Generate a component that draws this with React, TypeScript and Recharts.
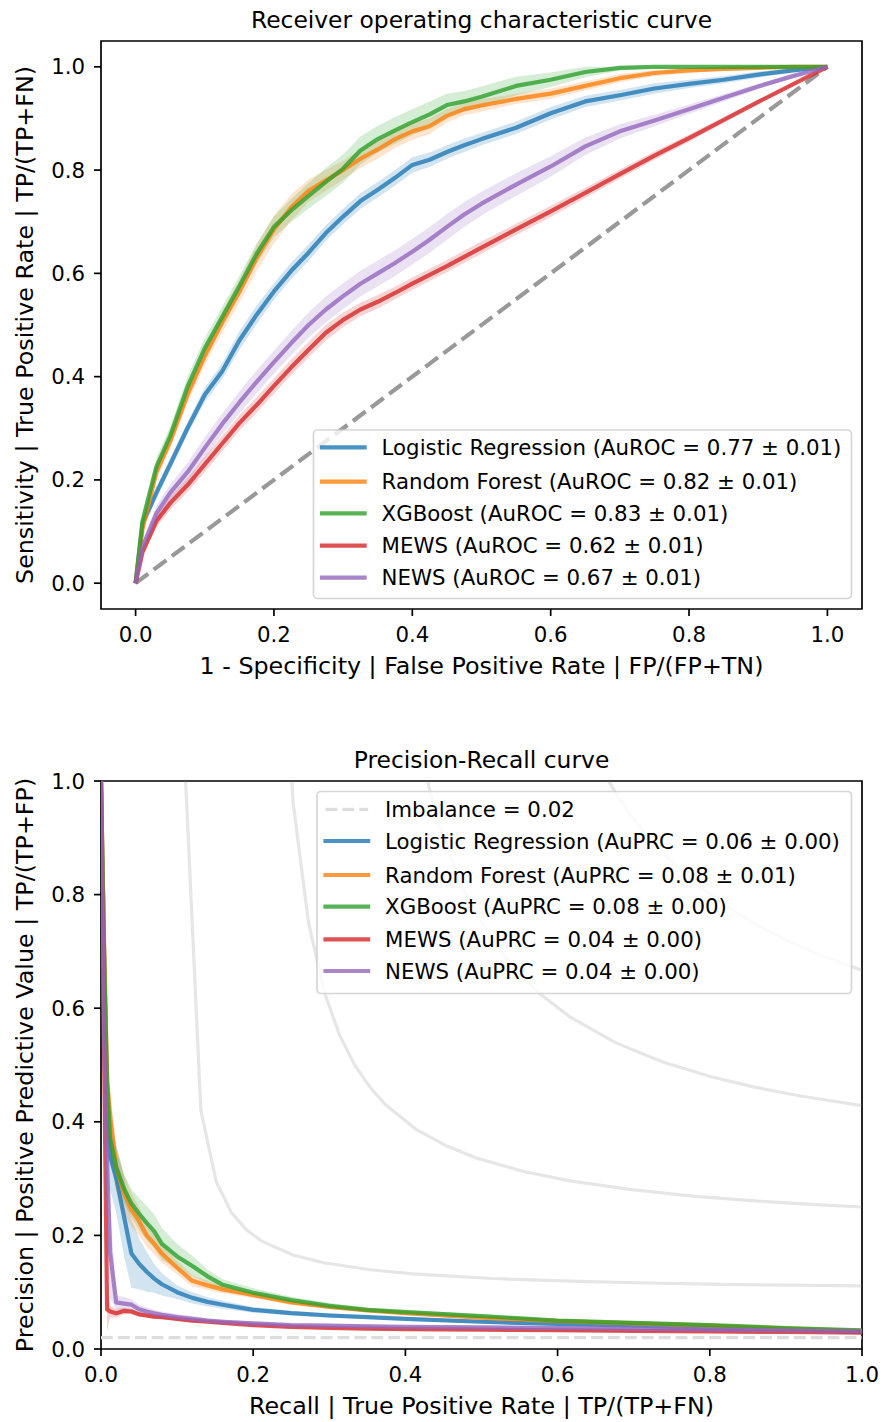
import React from "react";
import { ComposedChart, Line, Area, XAxis, YAxis, ReferenceArea, ReferenceLine } from "recharts";

const FONT = "DejaVu Sans";
const FS = 21.3;
const LABEL_FS = 23.8;
const TITLE_FS = 23.4;

const BLUE = "#1f77b4";
const ORANGE = "#ff7f0e";
const GREEN = "#2ca02c";
const RED = "#d62728";
const PURPLE = "#9467bd";

// ---------- ROC curve (false positive rate -> true positive rate) ----------
const rocFpr = [0, 0.01, 0.03, 0.05, 0.075, 0.1, 0.125, 0.15, 0.175, 0.2, 0.225, 0.25, 0.275, 0.3, 0.325, 0.35, 0.375, 0.4, 0.425, 0.45, 0.475, 0.5, 0.55, 0.6, 0.65, 0.7, 0.75, 0.8, 0.85, 0.9, 0.95, 1.0];
const rocLogReg = [0, 0.115, 0.175, 0.23, 0.3, 0.365, 0.41, 0.47, 0.52, 0.565, 0.605, 0.64, 0.678, 0.71, 0.74, 0.762, 0.785, 0.81, 0.82, 0.835, 0.848, 0.86, 0.882, 0.91, 0.933, 0.945, 0.958, 0.967, 0.975, 0.985, 0.993, 1];
const rocLogRegSd = [0, 0.01, 0.012, 0.012, 0.012, 0.014, 0.015, 0.018, 0.018, 0.016, 0.016, 0.016, 0.015, 0.015, 0.015, 0.015, 0.015, 0.015, 0.014, 0.013, 0.013, 0.012, 0.012, 0.012, 0.011, 0.01, 0.01, 0.008, 0.007, 0.006, 0.004, 0];
const rocForest = [0, 0.105, 0.215, 0.275, 0.365, 0.44, 0.505, 0.565, 0.63, 0.685, 0.728, 0.76, 0.78, 0.8, 0.822, 0.84, 0.86, 0.875, 0.885, 0.905, 0.918, 0.925, 0.938, 0.948, 0.963, 0.978, 0.988, 0.993, 0.996, 0.998, 1, 1];
const rocForestSd = [0, 0.012, 0.015, 0.015, 0.016, 0.018, 0.02, 0.022, 0.025, 0.027, 0.025, 0.022, 0.02, 0.018, 0.018, 0.018, 0.017, 0.016, 0.015, 0.013, 0.012, 0.012, 0.01, 0.01, 0.009, 0.008, 0.006, 0.005, 0.004, 0.003, 0.002, 0];
const rocXgb = [0, 0.12, 0.225, 0.285, 0.38, 0.455, 0.515, 0.575, 0.638, 0.69, 0.722, 0.75, 0.777, 0.803, 0.838, 0.86, 0.877, 0.893, 0.908, 0.926, 0.933, 0.942, 0.963, 0.975, 0.99, 0.998, 1, 1, 1, 1, 1, 1];
const rocXgbSd = [0, 0.015, 0.017, 0.018, 0.02, 0.02, 0.02, 0.02, 0.02, 0.02, 0.022, 0.025, 0.027, 0.027, 0.027, 0.026, 0.026, 0.025, 0.025, 0.022, 0.02, 0.02, 0.018, 0.014, 0.01, 0.005, 0.002, 0, 0, 0, 0, 0];
const rocMews = [0, 0.06, 0.12, 0.155, 0.19, 0.23, 0.27, 0.31, 0.345, 0.382, 0.418, 0.452, 0.485, 0.51, 0.53, 0.545, 0.562, 0.58, 0.597, 0.614, 0.632, 0.65, 0.685, 0.72, 0.756, 0.792, 0.828, 0.862, 0.897, 0.932, 0.966, 1];
const rocMewsSd = [0, 0.008, 0.012, 0.013, 0.014, 0.015, 0.015, 0.015, 0.015, 0.015, 0.015, 0.015, 0.015, 0.014, 0.013, 0.013, 0.012, 0.012, 0.012, 0.012, 0.012, 0.012, 0.011, 0.011, 0.01, 0.009, 0.008, 0.007, 0.006, 0.004, 0.002, 0];
const rocNews = [0, 0.07, 0.135, 0.175, 0.215, 0.262, 0.308, 0.35, 0.39, 0.428, 0.465, 0.5, 0.53, 0.556, 0.58, 0.6, 0.62, 0.642, 0.665, 0.69, 0.714, 0.735, 0.772, 0.807, 0.846, 0.875, 0.896, 0.918, 0.94, 0.962, 0.982, 1];
const rocNewsSd = [0, 0.01, 0.015, 0.016, 0.018, 0.02, 0.02, 0.021, 0.022, 0.022, 0.023, 0.024, 0.025, 0.025, 0.025, 0.025, 0.025, 0.025, 0.025, 0.025, 0.024, 0.023, 0.022, 0.02, 0.017, 0.014, 0.011, 0.009, 0.007, 0.005, 0.003, 0];
const chanceLine = [{ x: 0, y: 0 }, { x: 1, y: 1 }];

// ---------- Precision-recall curve (recall -> precision) ----------
const prRecall = [0, 0.004, 0.008, 0.012, 0.02, 0.03, 0.04, 0.05, 0.06, 0.07, 0.08, 0.1, 0.12, 0.14, 0.16, 0.2, 0.25, 0.3, 0.35, 0.4, 0.5, 0.6, 0.7, 0.8, 0.9, 1];
const prLogReg = [1, 0.7, 0.42, 0.34, 0.3, 0.235, 0.168, 0.15, 0.136, 0.124, 0.114, 0.1, 0.09, 0.083, 0.078, 0.069, 0.063, 0.059, 0.056, 0.053, 0.048, 0.044, 0.041, 0.037, 0.034, 0.03];
const prLogRegSd = [0, 0.06, 0.06, 0.06, 0.06, 0.07, 0.06, 0.045, 0.035, 0.025, 0.02, 0.012, 0.01, 0.008, 0.007, 0.005, 0.004, 0.004, 0.003, 0.003, 0.003, 0.003, 0.003, 0.002, 0.002, 0.002];
const prForest = [1, 0.72, 0.47, 0.41, 0.32, 0.275, 0.245, 0.225, 0.2, 0.185, 0.168, 0.143, 0.12, 0.112, 0.105, 0.095, 0.082, 0.074, 0.068, 0.063, 0.055, 0.049, 0.045, 0.041, 0.036, 0.032];
const prForestSd = [0, 0.08, 0.07, 0.05, 0.04, 0.035, 0.03, 0.025, 0.02, 0.018, 0.016, 0.012, 0.01, 0.008, 0.007, 0.005, 0.004, 0.003, 0.003, 0.003, 0.003, 0.002, 0.002, 0.002, 0.002, 0.002];
const prXgb = [1, 0.7, 0.47, 0.37, 0.32, 0.283, 0.256, 0.238, 0.222, 0.207, 0.185, 0.163, 0.146, 0.128, 0.113, 0.099, 0.086, 0.076, 0.069, 0.065, 0.058, 0.05, 0.046, 0.042, 0.037, 0.033];
const prXgbSd = [0, 0.06, 0.05, 0.04, 0.03, 0.025, 0.025, 0.028, 0.03, 0.03, 0.028, 0.022, 0.018, 0.012, 0.01, 0.008, 0.006, 0.005, 0.004, 0.004, 0.003, 0.003, 0.003, 0.002, 0.002, 0.002];
const prMews = [1, 0.53, 0.07, 0.066, 0.063, 0.067, 0.066, 0.061, 0.059, 0.057, 0.056, 0.053, 0.05, 0.048, 0.046, 0.042, 0.039, 0.037, 0.036, 0.035, 0.034, 0.033, 0.032, 0.031, 0.03, 0.029];
const prMewsSd = [0, 0.05, 0.04, 0.01, 0.008, 0.006, 0.005, 0.004, 0.004, 0.004, 0.003, 0.003, 0.003, 0.002, 0.002, 0.002, 0.002, 0.002, 0.002, 0.002, 0.002, 0.002, 0.002, 0.002, 0.002, 0.002];
const prNews = [1, 0.55, 0.33, 0.17, 0.082, 0.08, 0.078, 0.07, 0.066, 0.063, 0.06, 0.056, 0.053, 0.05, 0.048, 0.045, 0.042, 0.041, 0.04, 0.039, 0.038, 0.037, 0.036, 0.034, 0.033, 0.031];
const prNewsSd = [0, 0.1, 0.09, 0.08, 0.012, 0.012, 0.01, 0.008, 0.007, 0.006, 0.006, 0.005, 0.005, 0.004, 0.004, 0.003, 0.003, 0.003, 0.003, 0.002, 0.002, 0.002, 0.002, 0.002, 0.002, 0.002];
const imbalance = 0.02;

// iso-F1 guide curves (recall, precision)
const isoF1_02_r = [0.111, 0.1312, 0.1514, 0.1716, 0.1918, 0.212, 0.2524, 0.2929, 0.3535, 0.4141, 0.5151, 0.6161, 0.7171, 0.8182, 0.9192, 1.0];
const isoF1_02_p = [1.007, 0.4203, 0.2944, 0.2396, 0.2089, 0.1893, 0.1656, 0.1518, 0.1395, 0.1318, 0.1241, 0.1194, 0.1162, 0.1139, 0.1122, 0.1111];
const isoF1_04_r = [0.2322, 0.2524, 0.2727, 0.2929, 0.3131, 0.3333, 0.3535, 0.3737, 0.4141, 0.4545, 0.4949, 0.5555, 0.6161, 0.6969, 0.7778, 0.8586, 0.9394, 1.0];
const isoF1_04_p = [1.4403, 0.9626, 0.7506, 0.6308, 0.5538, 0.5001, 0.4606, 0.4303, 0.3868, 0.3572, 0.3356, 0.3125, 0.2961, 0.2805, 0.2692, 0.2607, 0.2541, 0.25];
const isoF1_06_r = [0.4141, 0.4343, 0.4545, 0.4747, 0.4949, 0.5353, 0.5757, 0.6161, 0.6767, 0.7374, 0.798, 0.8586, 0.9192, 1.0];
const isoF1_06_p = [1.0889, 0.9702, 0.8826, 0.8152, 0.7618, 0.6825, 0.6264, 0.5847, 0.5389, 0.5058, 0.4807, 0.4611, 0.4454, 0.4286];
const isoF1_08_r = [0.6565, 0.6767, 0.6969, 0.7171, 0.7374, 0.7778, 0.8182, 0.8586, 0.899, 0.9394, 0.9798, 1.0];
const isoF1_08_p = [1.0237, 0.9782, 0.9388, 0.9045, 0.8743, 0.8236, 0.7826, 0.7489, 0.7207, 0.6966, 0.676, 0.6667];

const ticks = [0, 0.2, 0.4, 0.6, 0.8, 1.0];

type Model = { key: string; name: string; score: string; color: string; values: number[]; sd: number[] };

const rocModels: Model[] = [
  { key: "lr", name: "Logistic Regression", score: "AuROC = 0.77 ± 0.01", color: BLUE, values: rocLogReg, sd: rocLogRegSd },
  { key: "rf", name: "Random Forest", score: "AuROC = 0.82 ± 0.01", color: ORANGE, values: rocForest, sd: rocForestSd },
  { key: "xgb", name: "XGBoost", score: "AuROC = 0.83 ± 0.01", color: GREEN, values: rocXgb, sd: rocXgbSd },
  { key: "mews", name: "MEWS", score: "AuROC = 0.62 ± 0.01", color: RED, values: rocMews, sd: rocMewsSd },
  { key: "news", name: "NEWS", score: "AuROC = 0.67 ± 0.01", color: PURPLE, values: rocNews, sd: rocNewsSd },
];

const prModels: Model[] = [
  { key: "lr", name: "Logistic Regression", score: "AuPRC = 0.06 ± 0.00", color: BLUE, values: prLogReg, sd: prLogRegSd },
  { key: "rf", name: "Random Forest", score: "AuPRC = 0.08 ± 0.01", color: ORANGE, values: prForest, sd: prForestSd },
  { key: "xgb", name: "XGBoost", score: "AuPRC = 0.08 ± 0.00", color: GREEN, values: prXgb, sd: prXgbSd },
  { key: "mews", name: "MEWS", score: "AuPRC = 0.04 ± 0.00", color: RED, values: prMews, sd: prMewsSd },
  { key: "news", name: "NEWS", score: "AuPRC = 0.04 ± 0.00", color: PURPLE, values: prNews, sd: prNewsSd },
];

const clamp01 = (v: number) => Math.max(0, Math.min(1, v));

function buildRows(xs: number[], models: Model[]) {
  return xs.map((x, i) => {
    const row: Record<string, any> = { x };
    models.forEach((m) => {
      row[m.key] = m.values[i];
      row[m.key + "Band"] = [clamp01(m.values[i] - m.sd[i]), clamp01(m.values[i] + m.sd[i])];
    });
    return row;
  });
}

const rocRows = buildRows(rocFpr, rocModels);
const prRows = buildRows(prRecall, prModels);

const isoCurves = [
  [isoF1_02_r, isoF1_02_p],
  [isoF1_04_r, isoF1_04_p],
  [isoF1_06_r, isoF1_06_p],
  [isoF1_08_r, isoF1_08_p],
].map(([rs, ps]) => rs.map((x, i) => ({ x, p: ps[i] })));

const tickStyle = { fontSize: FS, fill: "#000", fontFamily: FONT };
const tickLineStyle = { stroke: "#000", strokeWidth: 1.7 };
const fmt = (v: number) => v.toFixed(1);
const labelStyle = { fill: "#000", fontSize: LABEL_FS, fontFamily: FONT };

function bands(models: Model[]) {
  return models.map((m) => (
    <Area
      key={m.key + "-band"}
      dataKey={m.key + "Band"}
      type="linear"
      stroke="none"
      fill={m.color}
      fillOpacity={0.2}
      isAnimationActive={false}
      activeDot={false}
    />
  ));
}

function lines(models: Model[]) {
  return models.map((m) => (
    <Line
      key={m.key}
      dataKey={m.key}
      type="linear"
      stroke={m.color}
      strokeOpacity={0.8}
      strokeWidth={4.2}
      strokeLinejoin="round"
      dot={false}
      activeDot={false}
      isAnimationActive={false}
    />
  ));
}

function RocChart() {
  return (
    <ComposedChart width={885} height={740} data={rocRows} margin={{ top: 41, right: 23, bottom: 0, left: 0 }}>
      <XAxis
        type="number"
        dataKey="x"
        domain={[-0.05, 1.05]}
        ticks={ticks}
        interval={0}
        tickFormatter={fmt}
        tick={tickStyle}
        tickLine={tickLineStyle}
        tickSize={7}
        tickMargin={11}
        axisLine={false}
        height={131}
        label={{ value: "1 - Specificity | False Positive Rate | FP/(FP+TN)", position: "insideBottom", offset: 66.5, ...labelStyle }}
      />
      <YAxis
        type="number"
        domain={[-0.05, 1.05]}
        ticks={ticks}
        interval={0}
        tickFormatter={fmt}
        tick={tickStyle}
        tickLine={tickLineStyle}
        tickSize={7}
        tickMargin={9}
        axisLine={false}
        width={101}
        label={{ value: "Sensitivity | True Positive Rate | TP/(TP+FN)", angle: -90, position: "insideLeft", offset: 25, style: { textAnchor: "middle" }, ...labelStyle }}
      />
      <ReferenceLine
        segment={chanceLine}
        stroke="#808080"
        strokeOpacity={0.8}
        strokeWidth={4.2}
        strokeDasharray="15.8 6.8"
      />
      {bands(rocModels)}
      {lines(rocModels)}
      <ReferenceArea x1={-0.05} x2={1.05} y1={-0.05} y2={1.05} fill="none" stroke="#000" strokeWidth={1.7} />
    </ComposedChart>
  );
}

function PrChart() {
  return (
    <ComposedChart width={885} height={682} data={prRows} margin={{ top: 41, right: 23, bottom: 0, left: 0 }}>
      <XAxis
        type="number"
        dataKey="x"
        domain={[0, 1]}
        allowDataOverflow
        ticks={ticks}
        interval={0}
        tickFormatter={fmt}
        tick={tickStyle}
        tickLine={tickLineStyle}
        tickSize={7}
        tickMargin={11}
        axisLine={false}
        height={73}
        label={{ value: "Recall | True Positive Rate | TP/(TP+FN)", position: "insideBottom", offset: 8.5, ...labelStyle }}
      />
      <YAxis
        type="number"
        domain={[0, 1]}
        allowDataOverflow
        ticks={ticks}
        interval={0}
        tickFormatter={fmt}
        tick={tickStyle}
        tickLine={tickLineStyle}
        tickSize={7}
        tickMargin={9}
        axisLine={false}
        width={101}
        label={{ value: "Precision | Positive Predictive Value | TP/(TP+FP)", angle: -90, position: "insideLeft", offset: 25, style: { textAnchor: "middle" }, ...labelStyle }}
      />
      {isoCurves.map((c, i) => (
        <Line
          key={"iso" + i}
          data={c}
          dataKey="p"
          type="linear"
          stroke="#808080"
          strokeOpacity={0.2}
          strokeWidth={3.2}
          dot={false}
          activeDot={false}
          isAnimationActive={false}
        />
      ))}
      <ReferenceLine y={imbalance} stroke="#dddddd" strokeWidth={3.2} strokeDasharray="11.8 5.1" />
      {bands(prModels)}
      {lines(prModels)}
      <ReferenceArea x1={0} x2={1} y1={0} y2={1} fill="none" stroke="#000" strokeWidth={1.7} />
    </ComposedChart>
  );
}

type LegendItem = { label: string; color: string; cy: number; dash?: string; width: number; opacity: number };

function LegendBox({ x, y, w, h, items }: { x: number; y: number; w: number; h: number; items: LegendItem[] }) {
  return (
    <g>
      <rect x={x} y={y} width={w} height={h} rx={4} fill="#fff" fillOpacity={0.8} stroke="#cccccc" strokeOpacity={0.8} strokeWidth={1.7} />
      {items.map((it) => (
        <g key={it.label}>
          <line
            x1={x + 8.5}
            x2={x + 51.1}
            y1={it.cy}
            y2={it.cy}
            stroke={it.color}
            strokeOpacity={it.opacity}
            strokeWidth={it.width}
            strokeDasharray={it.dash}
            strokeLinecap={it.dash ? "butt" : "square"}
          />
          <text x={x + 68.1} y={it.cy + 0.36 * FS} fontSize={FS} fontFamily={FONT} fill="#000">
            {it.label}
          </text>
        </g>
      ))}
    </g>
  );
}

const rocLegendY = [447.3, 481.7, 513.3, 545.7, 577.7];
const prLegendY = [809.3, 841, 875, 906.7, 939.3, 971];

export default function App() {
  const rocItems: LegendItem[] = rocModels.map((m, i) => ({
    label: `${m.name} (${m.score})`,
    color: m.color,
    cy: rocLegendY[i],
    width: 4.2,
    opacity: 0.8,
  }));
  const prItems: LegendItem[] = [
    { label: `Imbalance = ${imbalance.toFixed(2)}`, color: "#dddddd", cy: prLegendY[0], dash: "11.8 5.1", width: 3.2, opacity: 1 },
    ...prModels.map((m, i) => ({
      label: `${m.name} (${m.score})`,
      color: m.color,
      cy: prLegendY[i + 1],
      width: 4.2,
      opacity: 0.8,
    })),
  ];

  return (
    <div style={{ position: "absolute", left: 0, top: 0, width: 885, height: 1422, background: "#fff", fontFamily: FONT }}>
      <div style={{ position: "absolute", left: 0, top: 0 }}>
        <RocChart />
      </div>
      <div style={{ position: "absolute", left: 0, top: 740 }}>
        <PrChart />
      </div>
      <svg width={885} height={1422} style={{ position: "absolute", left: 0, top: 0, pointerEvents: "none" }}>
        <text x={481.5} y={28} textAnchor="middle" fontSize={TITLE_FS} fontFamily={FONT} fill="#000">
          Receiver operating characteristic curve
        </text>
        <text x={481.5} y={768} textAnchor="middle" fontSize={TITLE_FS} fontFamily={FONT} fill="#000">
          Precision-Recall curve
        </text>
        <LegendBox x={313.5} y={430} w={538} h={168.5} items={rocItems} />
        <LegendBox x={317} y={791.5} w={534.5} h={202} items={prItems} />
      </svg>
    </div>
  );
}
